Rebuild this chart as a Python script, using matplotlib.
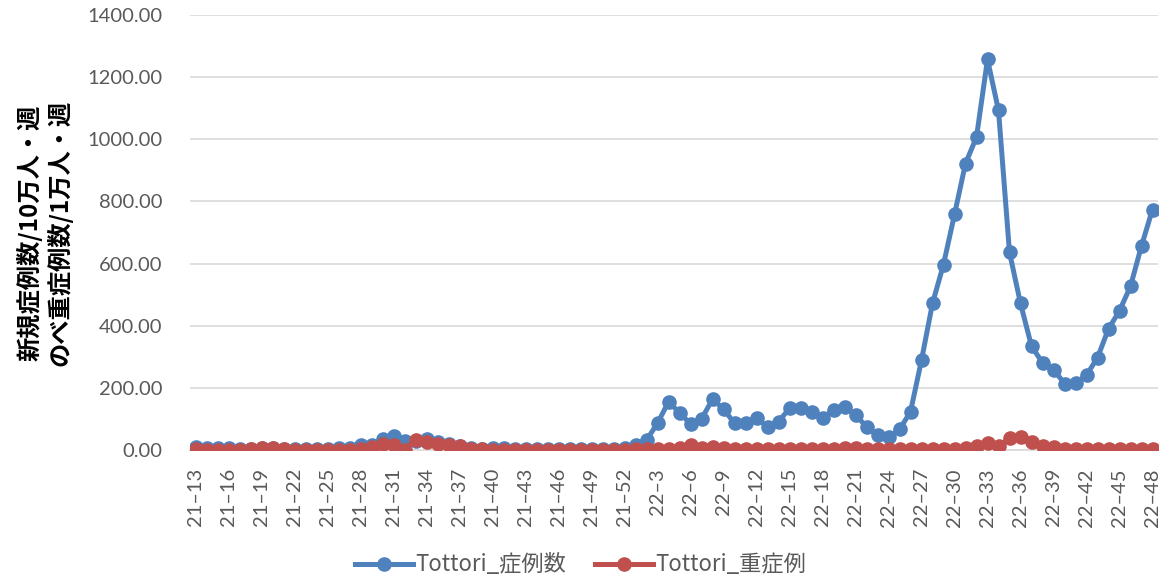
import matplotlib
matplotlib.use("Agg")
import matplotlib.pyplot as plt
from matplotlib.ticker import FixedLocator, FuncFormatter

# ---- data ----
weeks_2021 = list(range(13, 53))
weeks_2022 = list(range(1, 49))
categories = [f"21–{w}" for w in weeks_2021] + [f"22–{w}" for w in weeks_2022]

cases_2021 = [10, 5, 8, 5, 4, 4, 8, 6, 4, 3, 3, 3, 4, 6, 6, 15, 15, 35, 45, 30,
              30, 35, 27, 20, 12, 5, 4, 5, 5, 4, 3, 2, 2, 2, 2, 2, 2, 3, 4, 6]
cases_2022 = [15, 32, 86, 155, 120, 84, 100, 163, 132, 86, 88, 102, 75, 91, 134, 134,
              123, 103, 129, 139, 113, 75, 48, 42, 66, 123, 289, 472, 597, 758, 922, 1007,
              1257, 1093, 636, 472, 334, 281, 259, 214, 216, 241, 297, 390, 448, 527, 657, 774]
severe_2021 = [2, 1, 1, 1, 1, 2, 8, 5, 2, 1, 1, 1, 1, 1, 1, 3, 10, 20, 15, 0,
               33, 25, 20, 17, 13, 3, 2, 1, 1, 1, 1, 1, 1, 1, 1, 1, 1, 1, 1, 1]
severe_2022 = [2, 2, 2, 2, 5, 15, 5, 10, 5, 3, 2, 2, 2, 2, 2, 2, 2, 2, 3, 5,
               8, 3, 2, 2, 2, 2, 2, 2, 2, 2, 8, 12, 22, 12, 38, 43, 25, 12, 10, 3,
               2, 2, 2, 2, 2, 2, 2, 2]
cases = cases_2021 + cases_2022
severe = severe_2021 + severe_2022
series_names = ["Tottori_症例数", "Tottori_重症例"]
y_ticks = [0, 200, 400, 600, 800, 1000, 1200, 1400]

# ---- plot ----
plt.rcParams['font.family'] = ['Lato', 'Noto Sans CJK JP', 'DejaVu Sans']
W, H = 1161, 580
fig = plt.figure(figsize=(W / 100, H / 100), dpi=100)
ax = fig.add_axes([190 / W, (H - 450) / H, (1158 - 190) / W, (450 - 15) / H])

x = list(range(len(categories)))
blue = "#4F81BD"
red = "#C0504D"
ax.plot(x, cases, color=blue, lw=3.6, marker='o', ms=9.5, label=series_names[0], zorder=3)
ax.plot(x, severe, color=red, lw=3.6, marker='o', ms=9.5, label=series_names[1], zorder=4)

ax.set_xlim(-0.5, len(categories) - 0.5)
ax.set_ylim(0, 1400)
ax.yaxis.set_major_locator(FixedLocator(y_ticks))
ax.yaxis.set_major_formatter(FuncFormatter(lambda v, p: f"{v:.2f}"))
ax.grid(axis='y', color='#D9D9D9', lw=1.2, zorder=0)
ax.set_axisbelow(True)
for s in ['top', 'right', 'left']:
    ax.spines[s].set_visible(False)
ax.spines['bottom'].set_color('#D9D9D9')
ax.spines['bottom'].set_linewidth(1.2)

ax.set_xticks(x[::3])
ax.set_xticklabels(categories[::3], rotation=90)
ax.tick_params(axis='x', length=0, pad=13, labelsize=14.5, labelcolor='#595959')
ax.tick_params(axis='y', length=0, pad=20, labelsize=14.5, labelcolor='#595959')

ax.set_ylabel("新規症例数/10万人・週\nのべ重症例数/1万人・週", fontsize=17.5,
              fontweight='bold', family=['Noto Sans CJK JP', 'DejaVu Sans'],
              linespacing=1.15, color='#000000')
ax.yaxis.set_label_coords(-118 / 968, 0.5)

fig.legend(loc='center', bbox_to_anchor=(0.5, 1 - 565 / H), ncol=2, frameon=False,
           prop={'family': ['Noto Sans CJK JP', 'DejaVu Sans'], 'size': 16},
           handlelength=2.6, columnspacing=1.3, labelcolor='#595959',
           handletextpad=0.1)

fig.savefig("out.png", dpi=100)
